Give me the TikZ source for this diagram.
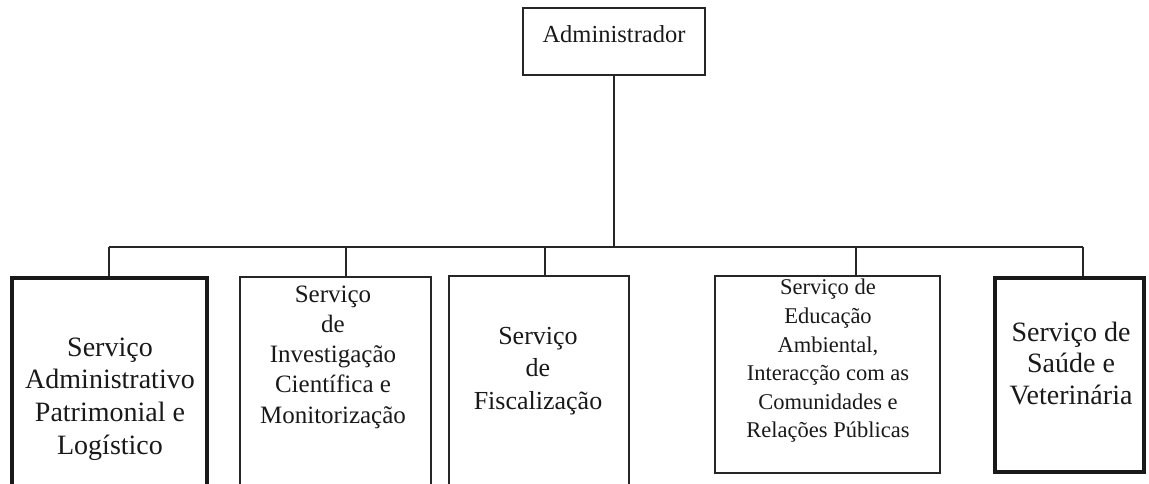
\documentclass[tikz,border=0pt]{standalone}
\usepackage{fontspec}
\setmainfont{Liberation Serif}
\begin{document}
\begin{tikzpicture}[x=1pt,y=-1pt,
  thinbox/.style={draw=black!85,line width=1.1pt,inner sep=0pt,fill=none},
  thickbox/.style={draw=black!90,line width=3.6pt,inner sep=0pt,fill=none},
  link/.style={draw=black!85,line width=1.1pt},
  txt/.style={align=center,inner sep=0pt,text=black!90}]
\useasboundingbox (0,0) rectangle (1149,483);
\clip (0,0) rectangle (1149,483);
% boxes
\node[thinbox,minimum width=182pt,minimum height=67pt] (adm) at (614,41.5) {};
\node[txt,font=\fontsize{24.5}{28}\selectfont] (tadm) at (614,34) {Administrador};
\node[thickbox,minimum width=195pt,minimum height=242pt] (b1) at (109.5,399) {};
\node[thinbox,minimum width=191pt,minimum height=243pt] (b2) at (335.5,398.5) {};
\node[thinbox,minimum width=180pt,minimum height=244pt] (b3) at (539,398) {};
\node[thinbox,minimum width=225pt,minimum height=197pt] (b4) at (827.5,374.5) {};
\node[thickbox,minimum width=149pt,minimum height=194pt] (b5) at (1069.5,375) {};
% texts
\node[txt,font=\fontsize{28}{32.7}\selectfont] (t1) at (110,399) {Serviço\\Administrativo\\Patrimonial e\\Logístico};
\node[txt,font=\fontsize{25}{30.2}\selectfont] (t2) at (333,357) {Serviço\\de\\Investigação\\Científica e\\Monitorização};
\node[txt,font=\fontsize{26}{32.5}\selectfont] (t3) at (538,371) {Serviço\\de\\Fiscalização};
\node[txt,font=\fontsize{22.5}{28.6}\selectfont] (t4) at (828,361) {Serviço de\\Educação\\Ambiental,\\Interacção com as\\Comunidades e\\Relações Públicas};
\node[txt,font=\fontsize{28}{31.5}\selectfont] (t5) at (1071,363) {Serviço de\\Saúde e\\Veterinária};
% connectors
\coordinate (j) at (614,247);
\coordinate (d1) at (109,247);
\coordinate (d2) at (346,247);
\coordinate (d3) at (545,247);
\coordinate (d4) at (856,247);
\coordinate (d5) at (1083,247);
\draw[link] (adm.south) -- (j);
\draw[link] (d1) -- (d5);
\draw[link] (d1) -- (d1 |- b1.north);
\draw[link] (d2) -- (d2 |- b2.north);
\draw[link] (d3) -- (d3 |- b3.north);
\draw[link] (d4) -- (d4 |- b4.north);
\draw[link] (d5) -- (d5 |- b5.north);
\end{tikzpicture}
\end{document}
